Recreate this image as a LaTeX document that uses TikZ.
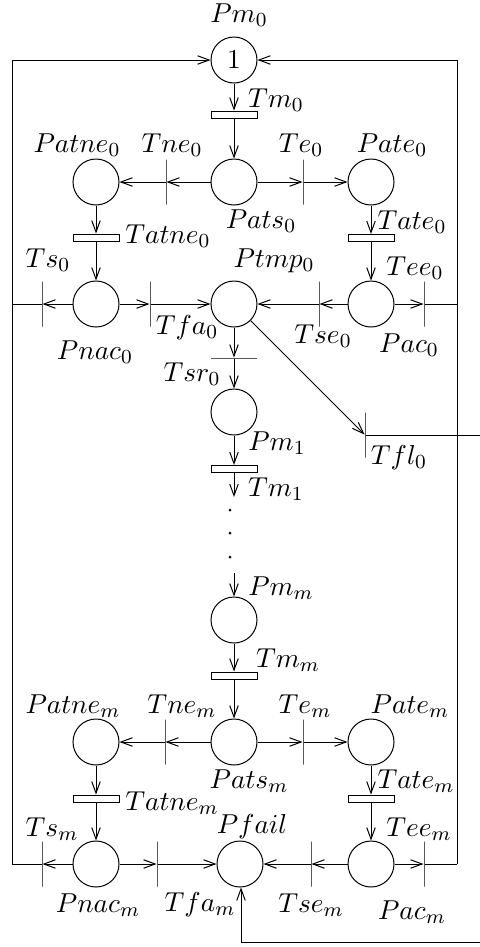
\documentclass[tikz,border=0pt]{standalone}
\usepackage{tikz}
\usetikzlibrary{arrows.meta}

\begin{document}
\begin{tikzpicture}[x=0.4pt,y=-0.4pt,>={Straight Barb[length=4.6pt,width=3.4pt]},font=\fontsize{10.95}{13}\selectfont]
  \tikzstyle{place}=[draw,circle,minimum size=18.4pt,inner sep=0pt]
  \tikzstyle{vbar}=[draw,minimum width=0pt,minimum height=18pt,inner sep=0pt]
  \tikzstyle{hbar}=[draw,minimum width=18.4pt,minimum height=0pt,inner sep=0pt]
  \tikzstyle{tbox}=[draw,minimum width=18.4pt,minimum height=2.8pt,inner sep=0pt]
  \tikzstyle{lbl}=[inner sep=0pt]
  \useasboundingbox (0,0) rectangle (480,947);
  % first module
  \node[place] (Pm0) at (234,60) {$1$};
  \node[tbox] (Tm0) at (234,114.5) {};
  \node[place] (Pats0) at (234,182) {};
  \node[place] (Patne0) at (96,182) {};
  \node[place] (Pate0) at (371,182) {};
  \node[vbar] (Tne0) at (166,182) {};
  \node[vbar] (Te0) at (303,182) {};
  \node[tbox] (Tatne0) at (96,237.5) {};
  \node[tbox] (Tate0) at (371,238) {};
  \node[place] (Pnac0) at (96,304) {};
  \node[place] (Ptmp0) at (234,304) {};
  \node[place] (Pac0) at (371,304) {};
  \node[vbar] (Ts0) at (42,304) {};
  \node[vbar] (Tfa0) at (150,304) {};
  \node[vbar] (Tse0) at (319,304) {};
  \node[vbar] (Tee0) at (424,304) {};
  \node[hbar] (Tsr0) at (234,358) {};
  \node[place] (Pm1) at (234,412) {};
  \node[vbar] (Tfl0) at (365,435) {};
  \node[tbox] (Tm1) at (234,469) {};
  % last module
  \node[place] (Pmm) at (234,620) {};
  \node[tbox] (Tmm) at (234,675.5) {};
  \node[place] (Patsm) at (234,742) {};
  \node[place] (Patnem) at (96,742) {};
  \node[place] (Patem) at (371,742) {};
  \node[vbar] (Tnem) at (165,742) {};
  \node[vbar] (Tem) at (303,742) {};
  \node[tbox] (Tatnem) at (96,798.5) {};
  \node[tbox] (Tatem) at (371,798.5) {};
  \node[place] (Pnacm) at (96,864) {};
  \node[place] (Pfail) at (240,864) {};
  \node[place] (Pacm) at (371,864) {};
  \node[vbar] (Tsm) at (42,864) {};
  \node[vbar] (Tfam) at (157,864) {};
  \node[vbar] (Tsem) at (311,864) {};
  \node[vbar] (Teem) at (424,864) {};
  % loose ends
  \coordinate (lt) at (12,60);
  \coordinate (rt) at (457,60);
  \coordinate (lm) at (12,304);
  \coordinate (rm) at (457,304);
  \coordinate (lb) at (12,864);
  \coordinate (rb) at (457,864);
  \coordinate (flout) at (480,435);
  \coordinate (fin) at (480,942);
  \coordinate (dotup) at (234,497);
  \coordinate (dotdn) at (234,573);
  % labels
  \node[lbl] (lPm0) at (239,15) {$Pm_0$};
  \node[lbl] (lTm0) at (276,100) {$Tm_0$};
  \node[lbl] (lPatne0) at (77,145) {$Patne_0$};
  \node[lbl] (lTne0) at (172,145) {$Tne_0$};
  \node[lbl] (lTe0) at (301,145) {$Te_0$};
  \node[lbl] (lPate0) at (392,145) {$Pate_0$};
  \node[lbl] (lPats0) at (261,221) {$Pats_0$};
  \node[lbl] (lTatne0) at (168,236) {$Tatne_0$};
  \node[lbl] (lTate0) at (412,222) {$Tate_0$};
  \node[lbl] (lTs0) at (48,260) {$Ts_0$};
  \node[lbl] (lPtmp0) at (274,261) {$Ptmp_0$};
  \node[lbl] (lTee0) at (415,268) {$Tee_0$};
  \node[lbl] (lTfa0) at (187,328) {$Tfa_0$};
  \node[lbl] (lTse0) at (323,336) {$Tse_0$};
  \node[lbl] (lPnac0) at (95,352) {$Pnac_0$};
  \node[lbl] (lPac0) at (409,345) {$Pac_0$};
  \node[lbl] (lTsr0) at (192,374) {$Tsr_0$};
  \node[lbl] (lPm1) at (277,443) {$Pm_1$};
  \node[lbl] (lTfl0) at (399,458) {$Tfl_0$};
  \node[lbl] (lTm1) at (276,489) {$Tm_1$};
  \node[lbl] (lPmm) at (281,588) {$Pm_m$};
  \node[lbl] (lTmm) at (288,660) {$Tm_m$};
  \node[lbl] (lPatnem) at (73,706) {$Patne_m$};
  \node[lbl] (lTnem) at (182,706) {$Tne_m$};
  \node[lbl] (lTem) at (305,706) {$Te_m$};
  \node[lbl] (lPatem) at (410,706) {$Pate_m$};
  \node[lbl] (lPatsm) at (249,781) {$Pats_m$};
  \node[lbl] (lTatem) at (416,781) {$Tate_m$};
  \node[lbl] (lTatnem) at (172,803) {$Tatne_m$};
  \node[lbl] (lTsm) at (52,829) {$Ts_m$};
  \node[lbl] (lPfail) at (252,827) {$Pfail$};
  \node[lbl] (lTeem) at (419,829) {$Tee_m$};
  \node[lbl] (lPnacm) at (98,905) {$Pnac_m$};
  \node[lbl] (lTfam) at (200,905) {$Tfa_m$};
  \node[lbl] (lTsem) at (311,905) {$Tse_m$};
  \node[lbl] (lPacm) at (412,912) {$Pac_m$};
  % arcs of the first module
  \draw[->] (Pm0) -- (Tm0);
  \draw[->] (Tm0) -- (Pats0);
  \draw[->] (Pats0) -- (Tne0);
  \draw[->] (Tne0) -- (Patne0);
  \draw[->] (Pats0) -- (Te0);
  \draw[->] (Te0) -- (Pate0);
  \draw[->] (Patne0) -- (Tatne0);
  \draw[->] (Tatne0) -- (Pnac0);
  \draw[->] (Pate0) -- (Tate0);
  \draw[->] (Tate0) -- (Pac0);
  \draw[->] (Pnac0) -- (Ts0);
  \draw[->] (Pnac0) -- (Tfa0);
  \draw[->] (Tfa0) -- (Ptmp0);
  \draw[->] (Pac0) -- (Tse0);
  \draw[->] (Tse0) -- (Ptmp0);
  \draw[->] (Pac0) -- (Tee0);
  \draw (Ts0) -- (lm);
  \draw (Tee0) -- (rm);
  \draw[->] (Ptmp0) -- (Tsr0);
  \draw[->] (Tsr0) -- (Pm1);
  \draw[->] (Ptmp0) -- (Tfl0);
  \draw (Tfl0) -- (flout);
  \draw[->] (Pm1) -- (Tm1);
  \draw[->] (Tm1) -- (dotup);
  \foreach \y in {510,533,557}
    \fill (230,\y) circle (0.6pt);
  % arcs of the last module
  \draw[->] (dotdn) -- (Pmm);
  \draw[->] (Pmm) -- (Tmm);
  \draw[->] (Tmm) -- (Patsm);
  \draw[->] (Patsm) -- (Tnem);
  \draw[->] (Tnem) -- (Patnem);
  \draw[->] (Patsm) -- (Tem);
  \draw[->] (Tem) -- (Patem);
  \draw[->] (Patnem) -- (Tatnem);
  \draw[->] (Tatnem) -- (Pnacm);
  \draw[->] (Patem) -- (Tatem);
  \draw[->] (Tatem) -- (Pacm);
  \draw[->] (Pnacm) -- (Tsm);
  \draw[->] (Pnacm) -- (Tfam);
  \draw[->] (Tfam) -- (Pfail);
  \draw[->] (Pacm) -- (Tsem);
  \draw[->] (Tsem) -- (Pfail);
  \draw[->] (Pacm) -- (Teem);
  \draw (Tsm) -- (lb);
  \draw (Teem) -- (rb);
  % return loops
  \draw[->] (lb) -- (lt) -- (Pm0);
  \draw[->] (rb) -- (rt) -- (Pm0);
  \draw[->] (fin) -| ([xshift=0.4pt]Pfail.south);
\end{tikzpicture}
\end{document}
